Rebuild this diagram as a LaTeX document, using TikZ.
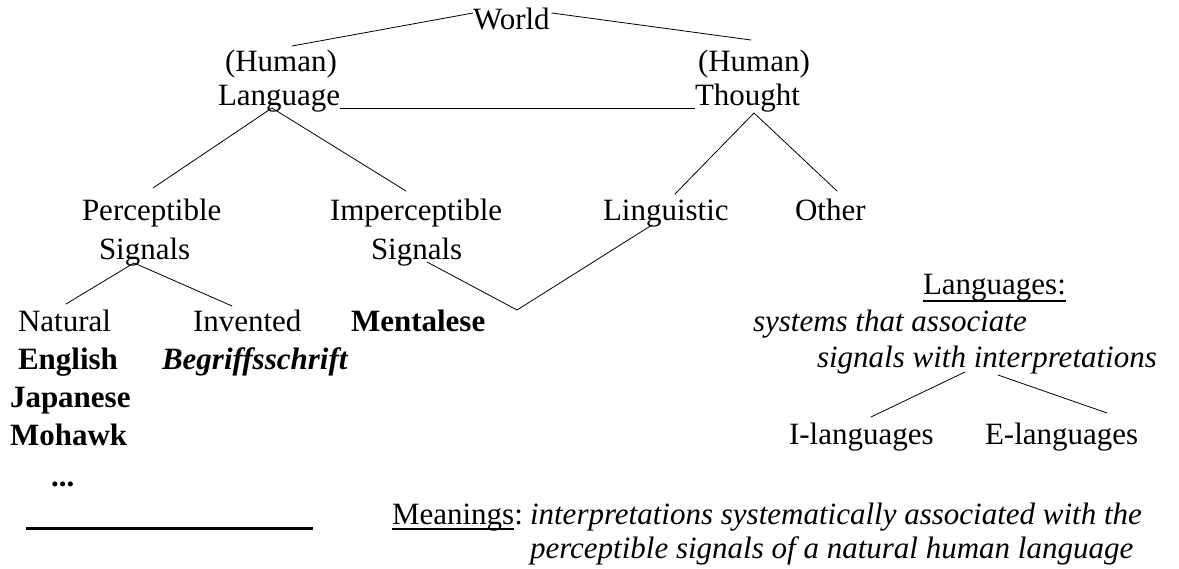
\documentclass[tikz,border=0pt]{standalone}
\usepackage{fontspec}
\setmainfont{Liberation Serif}
\begin{document}
\begin{tikzpicture}[x=1pt,y=-1pt,
  every node/.style={inner sep=0pt, outer sep=0pt, anchor=base west, font=\fontsize{31}{36}\selectfont},
  conn/.style={line width=0.8pt, line cap=round},
  bar/.style={line width=1.3pt},
  uline/.style={line width=1.6pt},
  thickrule/.style={line width=3pt}]
\useasboundingbox (0,0) rectangle (1179,569);
% top level
\node (world) at (473,30) {World};
\node (humL) at (225,72) {(Human)};
\node (lang) at (218,106) {Language};
\node (humR) at (698,72) {(Human)};
\node (thought) at (695,106) {Thought};
% second level
\node (perc) at (82,221) {Perceptible};
\node (sigL) at (99,260) {Signals};
\node (imperc) at (330,221) {Imperceptible};
\node (sigR) at (371,260) {Signals};
\node (ling) at (603,221) {Linguistic};
\node (other) at (795,221) {Other};
% third level
\node (natural) at (18,332) {Natural};
\node (invented) at (193,332) {Invented};
\node (mentalese) at (351,332) {\textbf{Mentalese}};
\node (english) at (18,370) {\textbf{English}};
\node (begriff) at (162,370) {\textbf{\textit{Begriffsschrift}}};
\node (japanese) at (10,408) {\textbf{Japanese}};
\node (mohawk) at (10,446) {\textbf{Mohawk}};
\node (dots) at (51,486) {\textbf{...}};
% right block
\node (langs) at (923,295) {Languages:};
\draw[uline] ([yshift=-6pt]langs.base west) -- ([yshift=-6pt]langs.base east);
\node (systems) at (753,332) {\textit{systems that associate}};
\node (sigwith) at (817,368) {\textit{signals with interpretations}};
\node (ilang) at (789,445) {I-languages};
\node (elang) at (985,445) {E-languages};
% meanings
\node (meanings) at (392,524) {Meanings};
\node (colon) at (meanings.base east) {:};
\draw[uline] ([yshift=-5pt]meanings.base west) -- ([yshift=-5pt]meanings.base east);
\node (mean1) at (530,524) {\textit{interpretations systematically associated with the}};
\node (mean2) at (530,558) {\textit{perceptible signals of a natural human language}};
% bottom-left rule
\coordinate (ruleA) at (26,528);
\coordinate (ruleB) at (313,528);
\draw[thickrule] (ruleA) -- (ruleB);
% Language ---- Thought bar
\draw[bar] ([yshift=-2.5pt]lang.base east) -- ([yshift=-2.5pt]thought.base west);
% connectors
\draw[conn] ([yshift=17pt]world.base west) -- ([xshift=67pt,yshift=26pt]humL.base west);
\draw[conn] ([xshift=2pt,yshift=17pt]world.base east) -- ([xshift=53pt,yshift=32pt]humR.base west);
\draw[conn] ([xshift=71pt,yshift=33pt]perc.base west) -- ([xshift=54pt,yshift=-2pt]lang.base west) -- ([xshift=76pt,yshift=30pt]imperc.base west);
\draw[conn] ([xshift=72pt,yshift=27pt]ling.base west) -- ([xshift=59pt,yshift=-7pt]thought.base west) -- ([xshift=42pt,yshift=30pt]other.base west);
\draw[conn] ([xshift=48pt,yshift=28pt]natural.base west) -- ([xshift=35pt,yshift=-3pt]sigL.base west) -- ([xshift=39pt,yshift=26pt]invented.base west);
\coordinate (vtx) at (517,310);
\draw[conn] ([xshift=56pt,yshift=-2pt]sigR.base west) -- (vtx) -- ([xshift=49pt,yshift=-4pt]ling.base west);
\draw[conn] ([xshift=148pt,yshift=-4pt]sigwith.base west) -- ([xshift=82pt,yshift=28pt]ilang.base west);
\draw[conn] ([xshift=181pt,yshift=-7pt]sigwith.base west) -- ([xshift=122pt,yshift=32pt]elang.base west);
\end{tikzpicture}
\end{document}
